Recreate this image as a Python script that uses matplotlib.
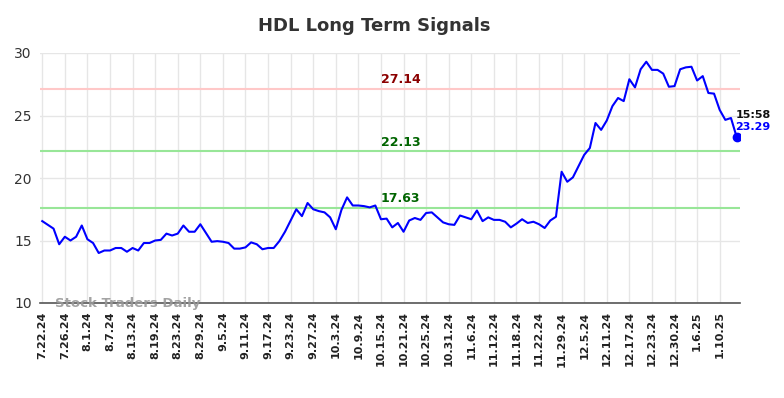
import matplotlib
matplotlib.use("Agg")
import matplotlib.pyplot as plt

# closing prices, one per trading day from 7.22.24 to 1.15.25
prices = [
    16.55, 16.25, 15.95, 14.7, 15.3, 15.0, 15.3, 16.2, 15.1, 14.8,
    14.0, 14.2, 14.2, 14.4, 14.4, 14.1, 14.4, 14.2, 14.8, 14.8,
    15.0, 15.05, 15.55, 15.4, 15.55, 16.2, 15.7, 15.7, 16.3, 15.6,
    14.9, 14.95, 14.9, 14.8, 14.35, 14.35, 14.45, 14.85, 14.7, 14.3,
    14.4, 14.4, 14.95, 15.7, 16.6, 17.5, 16.95, 18.0, 17.5, 17.35,
    17.25, 16.85, 15.9, 17.45, 18.45, 17.8, 17.8, 17.75, 17.65, 17.8,
    16.7, 16.75, 16.05, 16.4, 15.7, 16.6, 16.8, 16.65, 17.2, 17.25,
    16.85, 16.45, 16.3, 16.25, 17.0, 16.85, 16.7, 17.4, 16.55, 16.85,
    16.65, 16.65, 16.5, 16.05, 16.35, 16.7, 16.4, 16.5, 16.3, 16.0,
    16.6, 16.9, 20.5, 19.7, 20.05, 20.95, 21.85, 22.4, 24.4, 23.85,
    24.6, 25.75, 26.4, 26.15, 27.9, 27.25, 28.7, 29.3, 28.65, 28.65,
    28.35, 27.3, 27.35, 28.7, 28.85, 28.9, 27.8, 28.15, 26.8, 26.75,
    25.45, 24.65, 24.8, 23.29,
]

tick_labels = [
    "7.22.24", "7.26.24", "8.1.24", "8.7.24", "8.13.24", "8.19.24", "8.23.24",
    "8.29.24", "9.5.24", "9.11.24", "9.17.24", "9.23.24", "9.27.24", "10.3.24",
    "10.9.24", "10.15.24", "10.21.24", "10.25.24", "10.31.24", "11.6.24",
    "11.12.24", "11.18.24", "11.22.24", "11.29.24", "12.5.24", "12.11.24",
    "12.17.24", "12.23.24", "12.30.24", "1.6.25", "1.10.25",
]

levels = [27.14, 22.13, 17.63]
level_colors = ["#ffc8c8", "#98e698", "#98e698"]
label_colors = ["#8b0000", "#006400", "#006400"]

last_time = "15:58"

fig = plt.figure(figsize=(7.84, 3.98), dpi=100)
ax = fig.add_axes([40 / 784, 1 - 303 / 398, 700 / 784, 250 / 398])

x = list(range(len(prices)))
ticks = list(range(0, len(prices), 4))[:len(tick_labels)]

ax.set_xlim(-0.4, len(prices) - 0.4)
ax.set_ylim(10, 30)
ax.set_yticks([10, 15, 20, 25, 30])
ax.set_xticks(ticks)
ax.set_xticklabels(tick_labels, rotation=90, fontsize=8, fontweight="bold", color="#222222")
ax.tick_params(axis="y", labelsize=10, colors="#333333", length=0, pad=6)
ax.tick_params(axis="x", length=0, pad=6)
ax.grid(True, color="#e6e6e6", linewidth=1)
ax.set_axisbelow(True)
for s in ["top", "right", "left"]:
    ax.spines[s].set_visible(False)
ax.spines["bottom"].set_color("#555555")
ax.spines["bottom"].set_linewidth(1.2)

for lv, lc, tc in zip(levels, level_colors, label_colors):
    ax.axhline(lv, color=lc, linewidth=1.5, zorder=1)
    ax.text(63.5, lv + 0.2, f"{lv:.2f}", color=tc, fontsize=9, fontweight="bold",
            ha="center", va="bottom")

ax.plot(x, prices, color="#0000ff", linewidth=1.5, zorder=3)
ax.plot(x[-1], prices[-1], "o", color="#0000ff", markersize=6, zorder=4)

ax.text(x[-1] - 0.2, prices[-1] + 1.35, last_time, fontsize=8, fontweight="bold",
        color="#111111", ha="left", va="bottom")
ax.text(x[-1] - 0.2, prices[-1] + 0.4, f"{prices[-1]:.2f}", fontsize=8, fontweight="bold",
        color="#0000ff", ha="left", va="bottom")

ax.text(2.2, 10, "Stock Traders Daily", fontsize=9.5, fontweight="bold",
        color="#999999", alpha=0.9, ha="left", va="center", zorder=5)

fig.text(374 / 784, 1 - 26 / 398, "HDL Long Term Signals", fontsize=13,
         fontweight="bold", color="#333333", ha="center", va="center")

fig.savefig("out.png", dpi=100)
